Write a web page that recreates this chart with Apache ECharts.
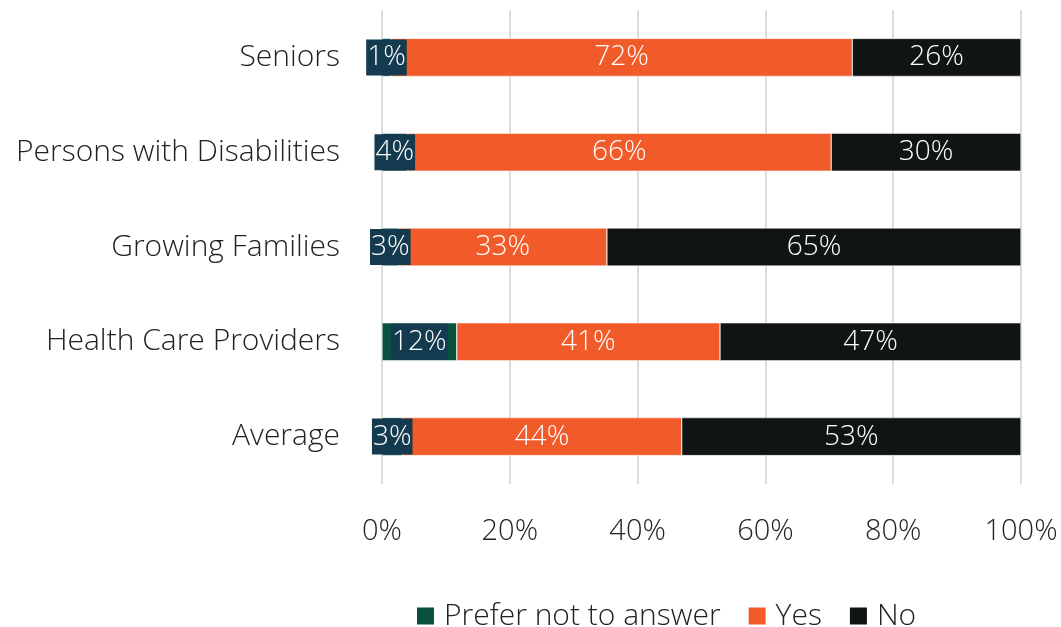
<!DOCTYPE html>
<html><head><meta charset="utf-8">
<script src="https://cdn.jsdelivr.net/npm/echarts@6/dist/echarts.min.js"></script>
<style>html,body{margin:0;padding:0;background:#fff}#c{width:1061px;height:627px}</style>
</head><body><div id="c"></div>
<script>
const categories = ["Seniors", "Persons with Disabilities", "Growing Families", "Health Care Providers", "Average"];
const preferNot = [1.4, 4.0, 2.6, 11.7, 3.2];
const yes = [72.2, 66.3, 32.6, 41.2, 43.7];
const no = [26.4, 29.7, 64.8, 47.1, 53.1];
const seriesNames = ["Prefer not to answer", "Yes", "No"];
const xTicks = [0, 20, 40, 60, 80, 100];

const FONT = "'Open Sans', 'Noto Sans', sans-serif";
const chart = echarts.init(document.getElementById('c'), null, {renderer: 'canvas'});
const fmt = p => Math.round(p.value) + '%';
const baseLabel = {show: true, position: 'inside', color: '#fff', fontSize: 28, fontFamily: FONT, fontWeight: 300, formatter: fmt};
chart.setOption({
  animation: false,
  grid: {left: 382, right: 40, top: 10, bottom: 143, containLabel: false},
  legend: {
    left: 410, top: 596, itemWidth: 19, itemHeight: 19, itemGap: 26,
    icon: 'rect',
    textStyle: {fontSize: 30, fontFamily: FONT, fontWeight: 300, color: '#222', padding: [0, 0, 0, 4]},
    data: seriesNames
  },
  xAxis: {
    type: 'value', min: 0, max: 100, interval: 20,
    axisLabel: {formatter: v => xTicks.includes(v) ? v + '%' : '', fontSize: 29, fontFamily: FONT, fontWeight: 300, color: '#222', margin: 33},
    splitLine: {lineStyle: {color: '#d9dedd', width: 2}},
    axisLine: {show: false}, axisTick: {show: false}
  },
  yAxis: {
    type: 'category', inverse: true, data: categories,
    axisLabel: {fontSize: 30, fontFamily: FONT, fontWeight: 300, color: '#222', margin: 42},
    axisLine: {show: false}, axisTick: {show: false}
  },
  series: [
    {name: seriesNames[0], type: 'bar', stack: 't', data: preferNot, barWidth: 38,
      itemStyle: {color: '#08513f', borderColor: '#fff', borderWidth: 0.5},
      label: Object.assign({}, baseLabel, {backgroundColor: '#133a4e', padding: [5, 1, 3, 1]})},
    {name: seriesNames[1], type: 'bar', stack: 't', data: yes, barWidth: 38,
      itemStyle: {color: '#f15a29', borderColor: '#fff', borderWidth: 0.5},
      label: baseLabel},
    {name: seriesNames[2], type: 'bar', stack: 't', data: no, barWidth: 38,
      itemStyle: {color: '#111415', borderColor: '#fff', borderWidth: 0.5},
      label: baseLabel}
  ]
});
</script></body></html>
